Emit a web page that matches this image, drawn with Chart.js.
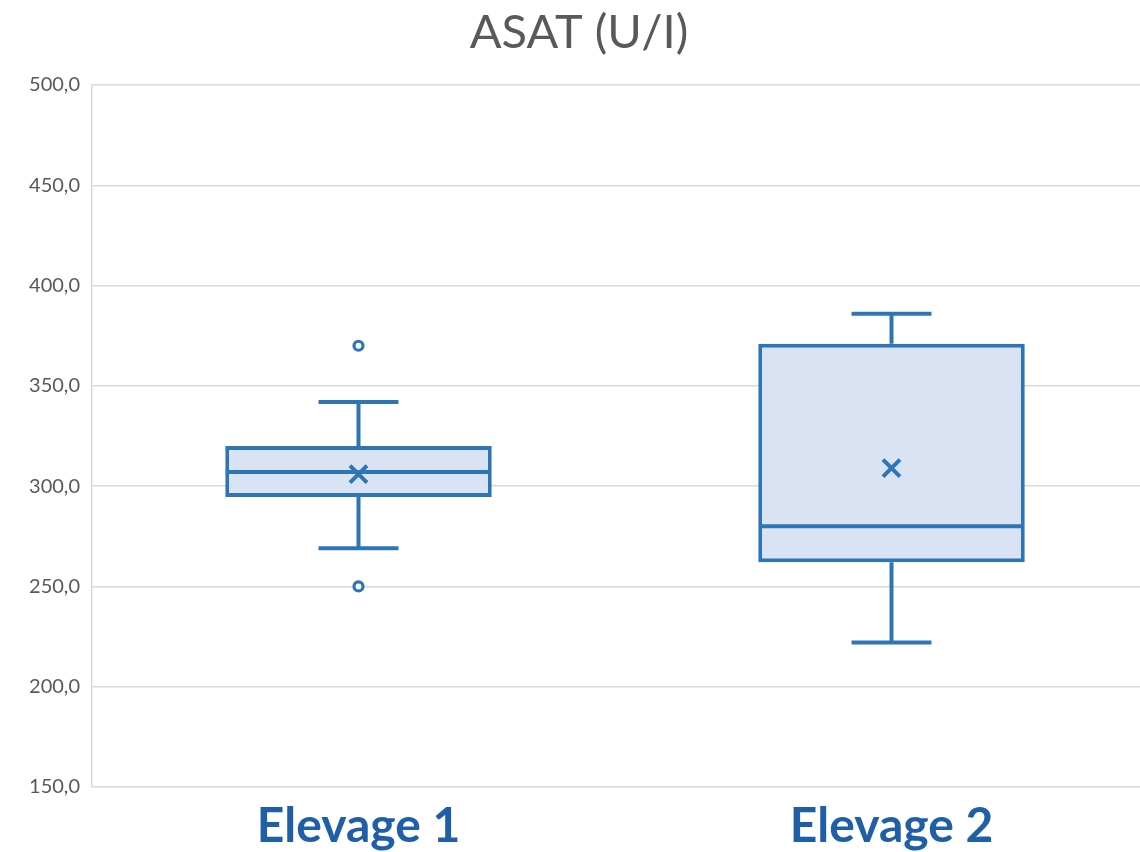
<!DOCTYPE html>
<html>
<head>
<meta charset="utf-8">
<script src="https://cdn.jsdelivr.net/npm/chart.js@4/dist/chart.umd.min.js"></script>
<style>
  body { margin: 0; overflow: hidden; background: #fff; }
</style>
</head>
<body>
<canvas id="graphique-asat" width="1176" height="852"></canvas>
<script>
// Données (U/I)
const elevages = ['Elevage 1', 'Elevage 2'];
const minimums = [269, 222];
const quartile1 = [294.6, 262];
const medianes = [307, 280];
const quartile3 = [320, 371];
const maximums = [342, 386];
const moyennes = [306, 309];
const valeursAberrantes = [
  { x: 'Elevage 1', y: 370 },
  { x: 'Elevage 1', y: 250 }
];
const graduations = [150, 200, 250, 300, 350, 400, 450, 500];

const bleu = '#2E75B6';
const bleuClair = '#DAE3F3';
const gris = '#595959';

// Moustaches et médiane dessinées avec les échelles du graphique
const moustaches = {
  id: 'moustaches',
  afterDatasetDraw(chart, args) {
    if (args.index !== 0) return;
    const ctx = chart.ctx;
    const y = chart.scales.y;
    ctx.save();
    ctx.strokeStyle = bleu;
    ctx.lineWidth = 4;
    args.meta.data.forEach((barre, i) => {
      const cx = barre.x;
      const demi = barre.width / 2;
      const cap = barre.width * 0.15;
      const yMin = y.getPixelForValue(minimums[i]);
      const yQ1 = y.getPixelForValue(quartile1[i]);
      const yMed = y.getPixelForValue(medianes[i]);
      const yQ3 = y.getPixelForValue(quartile3[i]);
      const yMax = y.getPixelForValue(maximums[i]);
      ctx.beginPath();
      ctx.moveTo(cx, yQ3); ctx.lineTo(cx, yMax);
      ctx.moveTo(cx - cap, yMax); ctx.lineTo(cx + cap, yMax);
      ctx.moveTo(cx, yQ1); ctx.lineTo(cx, yMin);
      ctx.moveTo(cx - cap, yMin); ctx.lineTo(cx + cap, yMin);
      ctx.moveTo(cx - demi + 1, yMed); ctx.lineTo(cx + demi - 1, yMed);
      ctx.stroke();
    });
    ctx.restore();
  }
};

const ctx = document.getElementById('graphique-asat').getContext('2d');
new Chart(ctx, {
  type: 'bar',
  data: {
    labels: elevages,
    datasets: [
      {
        label: 'Boîte',
        data: elevages.map((e, i) => [quartile1[i], quartile3[i]]),
        backgroundColor: bleuClair,
        borderColor: bleu,
        borderWidth: 4,
        borderSkipped: false,
        categoryPercentage: 1,
        barPercentage: 0.5,
        order: 3
      },
      {
        type: 'line',
        label: 'Moyenne',
        data: moyennes,
        showLine: false,
        pointStyle: 'crossRot',
        pointRadius: 12,
        pointBorderWidth: 4,
        pointBorderColor: bleu,
        order: 1
      },
      {
        type: 'line',
        label: 'Valeurs aberrantes',
        data: valeursAberrantes,
        showLine: false,
        pointStyle: 'circle',
        pointRadius: 4.5,
        pointBorderWidth: 3.2,
        pointBorderColor: bleu,
        pointBackgroundColor: '#fff',
        order: 2
      }
    ]
  },
  options: {
    responsive: false,
    animation: false,
    layout: { padding: { right: 18 } },
    scales: {
      y: {
        min: 150,
        max: 500,
        afterBuildTicks: (scale) => { scale.ticks = graduations.map(v => ({ value: v })); },
        afterFit: (scale) => { scale.width = 92; },
        ticks: {
          color: gris,
          padding: 12,
          font: { family: 'Lato', size: 20 },
          callback: (v) => v.toFixed(1).replace('.', ',')
        },
        grid: { color: '#D9D9D9', lineWidth: 1.5, drawTicks: false },
        border: { display: true, color: '#D9D9D9', width: 1.5 }
      },
      x: {
        afterFit: (scale) => { scale.height = 65; },
        ticks: {
          color: '#1F5FA8',
          padding: 3,
          font: { family: 'Lato', size: 48, weight: 'bold' }
        },
        grid: { display: false },
        border: { display: false }
      }
    },
    plugins: {
      legend: { display: false },
      tooltip: { enabled: false },
      title: {
        display: true,
        text: 'ASAT (U/I)',
        color: gris,
        font: { family: 'Lato', size: 47, weight: 'normal' },
        padding: { top: 5, bottom: 23.6 }
      }
    }
  },
  plugins: [moustaches]
});
</script>
</body>
</html>
